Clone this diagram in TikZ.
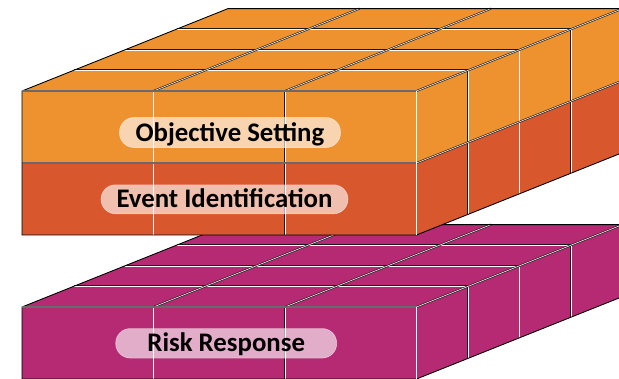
\documentclass[tikz,border=0pt]{standalone}
\usepackage{fontspec}
\setmainfont{Carlito}
\definecolor{cubeorange}{HTML}{EE9230}
\definecolor{cubered}{HTML}{D9572C}
\definecolor{cubepurple}{HTML}{B52A72}

% One slab of the cube: three columns wide, four cells deep.
% #1 = y of the front top edge, #2 = number of rows, #3 = top face colour,
% #4 = list of row colours from top to bottom.
\newcommand\cubeblock[4]{%
  \pgfmathsetmacro\ybot{#1+72*#2}
  \pgfmathsetmacro\yback{#1-82.4}
  % faces
  \fill[#3] (22,#1) -- (416.5,#1) -- ++(206,-82.4) -- (228,\yback) -- cycle;
  \foreach \col [count=\r from 0] in {#4} {
    \pgfmathsetmacro\ya{#1+72*\r}
    \pgfmathsetmacro\yb{#1+72*(\r+1)}
    \fill[\col] (22,\ya) rectangle (416.5,\yb);
    \fill[\col] (416.5,\ya) -- ++(206,-82.4) -- ++(0,72) -- (416.5,\yb) -- cycle;
  }
  % seams on the top face
  \foreach \k in {1,2,3} {
    \pgfmathsetmacro\xs{22+51.5*\k}
    \pgfmathsetmacro\ys{#1-20.6*\k}
    \draw[seam] (\xs,\ys) -- ++(394.5,0);
  }
  \foreach \j in {1,2} {
    \pgfmathsetmacro\xs{22+131.5*\j}
    \draw[seam] (\xs,#1) -- ++(206,-82.4);
    \draw[seam] (\xs,#1) -- (\xs,\ybot);
  }
  % seams on the right side
  \foreach \k in {1,2,3} {
    \pgfmathsetmacro\xs{416.5+51.5*\k}
    \pgfmathsetmacro\ys{#1-20.6*\k}
    \pgfmathsetmacro\ye{\ybot-20.6*\k}
    \draw[seam] (\xs,\ys) -- (\xs,\ye);
  }
  \ifnum#2>1
    \foreach \r in {2,...,#2} {
      \pgfmathsetmacro\ya{#1+72*(\r-1)}
      \draw[seam] (22,\ya) -- (416.5,\ya) -- ++(206,-82.4);
    }
  \fi
  % outline
  \draw[edge] (22,\ybot) -- (22,#1) -- (228,\yback) -- (622.5,\yback)
    -- ++(0,72*#2) -- (416.5,\ybot) -- cycle;
  \draw[seam] (22,#1) -- (416.5,#1) -- ++(206,-82.4);
  \draw[seam] (416.5,#1) -- (416.5,\ybot);
}

\begin{document}
\begin{tikzpicture}[x=1pt,y=-1pt,
  edge/.style={draw=black, line width=0.9pt, line join=miter},
  seam/.style={draw=black!90, line width=0.65pt, double=white, double distance=0.6pt},
  pill/.style={rounded corners=14.5pt, fill=white, fill opacity=0.62,
    draw=white, draw opacity=0.5, line width=0.6pt, text opacity=1,
    inner sep=0pt, text=black,
    font=\fontsize{26.8}{27}\selectfont\bfseries, text height=17.3pt, text depth=0pt}]
  \useasboundingbox (0,0) rectangle (619,378);
  \clip (0,0) rectangle (619,378);

  % lower slab
  \cubeblock{307}{1}{cubepurple}{cubepurple}
  % upper slab
  \cubeblock{91}{2}{cubeorange}{cubeorange,cubered}

  % labels
  \node[pill, minimum width=221pt, minimum height=30pt] (objective) at (230,132.5) {Objective Setting};
  \node[pill, minimum width=247pt, minimum height=29pt] (event) at (224.5,199.3) {Event Identification};
  \node[pill, minimum width=221pt, minimum height=29.5pt] (response) at (226.2,343.3) {Risk Response};
\end{tikzpicture}
\end{document}
